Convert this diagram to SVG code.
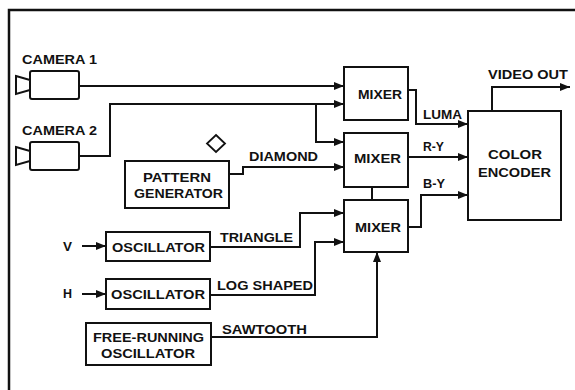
<svg xmlns="http://www.w3.org/2000/svg" width="575" height="390" viewBox="0 0 575 390">
<defs>
<marker id="ah" viewBox="0 0 10 8" refX="10" refY="4" markerWidth="10" markerHeight="8" markerUnits="userSpaceOnUse" orient="auto">
<path d="M0,0 L10,4 L0,8 Z" fill="#111"/>
</marker>
<style>
.b{fill:#fff;stroke:#111;stroke-width:2}
.w{fill:none;stroke:#111;stroke-width:2}
.a{fill:none;stroke:#111;stroke-width:2;marker-end:url(#ah)}
text{font-family:"Liberation Sans",Arial,sans-serif;font-weight:bold;font-size:13px;fill:#111}
.c{text-anchor:middle}
</style>
</defs>
<rect width="575" height="390" fill="#fff"/>
<path d="M9,390 V10 H575" fill="none" stroke="#111" stroke-width="2.5"/>

<g id="camera1">
<rect class="b" x="30" y="71" width="49" height="28" rx="2"/>
<path class="b" d="M16,76 L30,80 L30,90 L16,94 Z"/>
<text x="22" y="64" textLength="75" lengthAdjust="spacingAndGlyphs">CAMERA 1</text>
</g>
<g id="camera2">
<rect class="b" x="30" y="142" width="49" height="28" rx="2"/>
<path class="b" d="M16,147 L30,151 L30,161 L16,165 Z"/>
<text x="22" y="135" textLength="75" lengthAdjust="spacingAndGlyphs">CAMERA 2</text>
</g>
<g id="mixer1">
<rect class="b" x="344" y="67" width="64" height="53"/>
<text x="358" y="99" textLength="44" lengthAdjust="spacingAndGlyphs">MIXER</text>
</g>
<g id="mixer2">
<rect class="b" x="344" y="133" width="64" height="54"/>
<text x="354" y="163" textLength="47" lengthAdjust="spacingAndGlyphs">MIXER</text>
</g>
<g id="mixer3">
<rect class="b" x="344" y="200" width="64" height="52"/>
<text x="355" y="232" textLength="46" lengthAdjust="spacingAndGlyphs">MIXER</text>
</g>
<g id="encoder">
<rect class="b" x="468" y="111" width="93" height="109"/>
<text x="488" y="159" textLength="54" lengthAdjust="spacingAndGlyphs">COLOR</text>
<text x="478" y="177" textLength="73" lengthAdjust="spacingAndGlyphs">ENCODER</text>
</g>
<g id="pattern">
<rect class="b" x="125" y="161" width="104" height="47"/>
<text x="143" y="182" textLength="68" lengthAdjust="spacingAndGlyphs">PATTERN</text>
<text x="134" y="198" textLength="89" lengthAdjust="spacingAndGlyphs">GENERATOR</text>
</g>
<g id="diamond">
<path d="M216,135 L225,143.5 L216,152 L207,143.5 Z" fill="#fff" stroke="#111" stroke-width="1.8"/>
</g>
<g id="oscV">
<rect class="b" x="106" y="232" width="104" height="29"/>
<text x="112" y="252" textLength="93" lengthAdjust="spacingAndGlyphs">OSCILLATOR</text>
</g>
<g id="oscH">
<rect class="b" x="106" y="279" width="104" height="30"/>
<text x="111" y="299" textLength="94" lengthAdjust="spacingAndGlyphs">OSCILLATOR</text>
</g>
<g id="oscFree">
<rect class="b" x="86" y="323" width="125" height="42"/>
<text x="93" y="342" textLength="111" lengthAdjust="spacingAndGlyphs">FREE-RUNNING</text>
<text x="101" y="358" textLength="94" lengthAdjust="spacingAndGlyphs">OSCILLATOR</text>
</g>
<g id="inputs">
<text x="63" y="251" textLength="9" lengthAdjust="spacingAndGlyphs">V</text>
<text x="63" y="298" textLength="9" lengthAdjust="spacingAndGlyphs">H</text>
</g>

<g id="connectors">
<path class="a" d="M79,86 H344"/>
<path class="a" d="M79,156 H110 V104 H344"/>
<path class="a" d="M316,104 V142 H344"/>
<path class="a" d="M229,174 H243 V167 H344"/>
<path class="w" d="M372,187 V200"/>
<path class="a" d="M82,246 H106"/>
<path class="a" d="M82,294 H106"/>
<path class="a" d="M210,247 H300 V213 H344"/>
<path class="a" d="M210,295 H315 V242 H344"/>
<path class="a" d="M211,337 H377 V252"/>
<path class="a" d="M408,90 H416 V124 H468"/>
<path class="a" d="M408,157 H468"/>
<path class="a" d="M408,227 H421 V195 H468"/>
<path class="a" d="M492,111 V87 H570"/>
<text x="249" y="161" textLength="69" lengthAdjust="spacingAndGlyphs">DIAMOND</text>
<text x="220" y="242" textLength="73" lengthAdjust="spacingAndGlyphs">TRIANGLE</text>
<text x="217" y="290" textLength="96" lengthAdjust="spacingAndGlyphs">LOG SHAPED</text>
<text x="222" y="334" textLength="85" lengthAdjust="spacingAndGlyphs">SAWTOOTH</text>
<text x="423" y="119" textLength="39" lengthAdjust="spacingAndGlyphs">LUMA</text>
<text x="423" y="151" textLength="21" lengthAdjust="spacingAndGlyphs">R-Y</text>
<text x="423" y="188" textLength="22" lengthAdjust="spacingAndGlyphs">B-Y</text>
<text x="488" y="79" textLength="80" lengthAdjust="spacingAndGlyphs">VIDEO OUT</text>
</g>
</svg>
